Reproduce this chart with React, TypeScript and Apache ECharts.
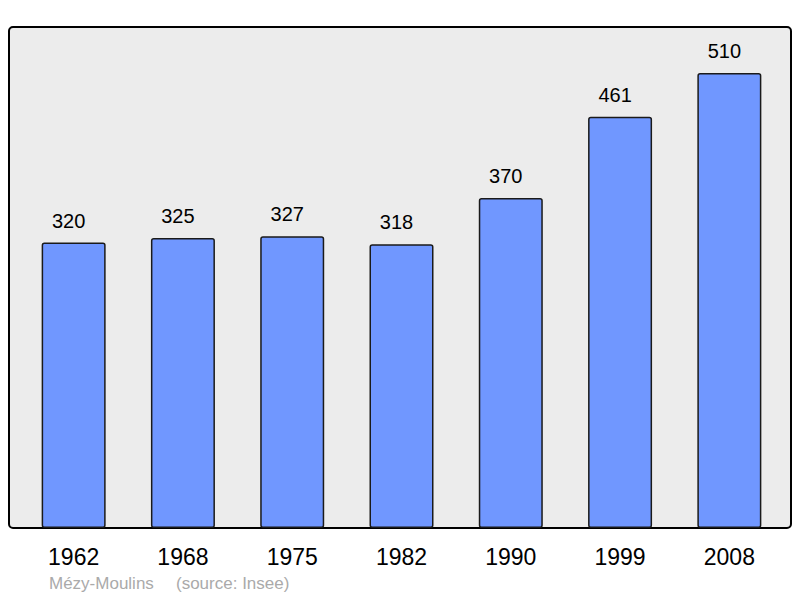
import { useEffect, useRef } from "react";
import * as echarts from "echarts";

const years = ["1962", "1968", "1975", "1982", "1990", "1999", "2008"];
const population = [320, 325, 327, 318, 370, 461, 510];
const townName = "Mézy-Moulins";
const sourceNote = "(source: Insee)";

const FONT = "'Liberation Sans', Arial, sans-serif";

export default function App() {
  const elRef = useRef<HTMLDivElement>(null);

  useEffect(() => {
    if (!elRef.current) return;
    const chart = echarts.init(elRef.current, null, { renderer: "svg" });
    chart.setOption({
      animation: false,
      backgroundColor: "#fff",
      textStyle: { fontFamily: FONT },
      grid: { left: 19, width: 765, top: 27, height: 501 },
      xAxis: {
        type: "category",
        data: years,
        axisLine: { show: false },
        axisTick: { show: false },
        axisLabel: { color: "#000", fontSize: 23, margin: 17, fontFamily: FONT },
      },
      yAxis: { type: "value", min: 0, max: 561.6, show: false, splitLine: { show: false } },
      graphic: [
        {
          type: "rect",
          z: -10,
          shape: { x: 9, y: 27, width: 782, height: 501, r: 4 },
          style: { fill: "#ececec", stroke: "#000", lineWidth: 2 },
        },
        {
          type: "text",
          left: 49,
          top: 575,
          style: { text: townName, fill: "#aaaaaa", fontSize: 17, fontFamily: FONT },
        },
        {
          type: "text",
          left: 176,
          top: 575,
          style: { text: sourceNote, fill: "#aaaaaa", fontSize: 17, fontFamily: FONT },
        },
      ],
      series: [
        {
          type: "bar",
          data: population,
          barWidth: 64,
          itemStyle: { color: "#7097ff", borderColor: "#1a1a1a", borderWidth: 1.5, borderRadius: 2 },
          label: {
            show: true,
            position: "top",
            distance: 12,
            offset: [-5, 0],
            color: "#000",
            fontSize: 20,
            fontFamily: FONT,
          },
        },
      ],
    });
    return () => chart.dispose();
  }, []);

  return (
    <div
      ref={elRef}
      style={{ position: "absolute", left: 0, top: 0, width: 800, height: 598 }}
    />
  );
}
